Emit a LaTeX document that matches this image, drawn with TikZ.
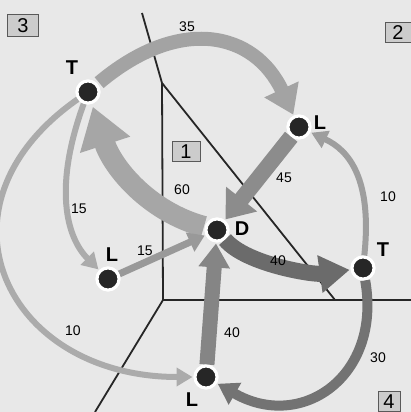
\documentclass[tikz,border=0pt]{standalone}
\usepackage{fontspec}
\setmainfont{Liberation Sans}
\usetikzlibrary{arrows.meta,positioning}

\begin{document}
\begin{tikzpicture}[x=1pt,y=1pt]
\tikzset{
    dot/.style={circle, fill=black!85, draw=white, line width=3pt, minimum size=22pt, inner sep=0pt},
    letter/.style={font=\fontsize{20}{20}\selectfont\bfseries, inner sep=0pt},
    num/.style={font=\fontsize{14}{14}\selectfont, inner sep=0pt},
    zone/.style={draw=black!65, fill=black!20, line width=1pt, font=\fontsize{20}{20}\selectfont, inner sep=0pt},
    axis/.style={draw=black!85, line width=1.8pt},
    band/.style={line width=#1, line cap=butt}
}

% --- background ---
\fill[black!9] (0,0) rectangle (411,412);
\useasboundingbox (0,0) rectangle (411,412);

% --- axes ---
\coordinate (a0) at (142,399);
\coordinate (a1) at (162,329);
\coordinate (a2) at (163,112);
\coordinate (a3) at (335,112);
\coordinate (a4) at (411,112);
\coordinate (a5) at (95,0);
\draw[axis] (a0)--(a1) (a1)--(a2) (a1)--(a3);
\draw[axis] (a2)--(a4) (a2)--(a5);

% --- nodes ---
\node[dot] (Tt) at (88,320) {};
\node[dot] (Lt) at (299,285) {};
\node[dot] (D) at (217,182) {};
\node[dot] (Ll) at (108,133) {};
\node[dot] (Tr) at (363,144) {};
\node[dot] (Lb) at (206,35) {};

% --- flows ---
\draw[band=14pt, black!36, -{Triangle[length=28pt,width=36pt]}, shorten <=2pt, shorten >=1pt]
    (Tt) .. controls +(40:120pt) and +(115:105pt) .. (Lt);
\draw[band=16pt, black!45, -{Triangle[length=26pt,width=38pt]}, shorten >=1pt]
    (Lt) -- (D);
\draw[band=21pt, black!35, -{Triangle[length=40pt,width=50pt]}, shorten <=1pt, shorten >=3pt]
    (D) .. controls +(165:70pt) and +(-72:80pt) .. (Tt);
\draw[band=6pt, black!33, -{Triangle[length=16pt,width=18pt]}, shorten >=1pt]
    (Tt) .. controls +(-110:100pt) and +(135:60pt) .. (Ll);
\draw[band=6pt, black!33, -{Triangle[length=16pt,width=18pt]}, shorten >=1pt]
    (Tt) .. controls +(215:200pt) and +(180:200pt) .. (Lb);
\draw[band=7pt, black!40, -{Triangle[length=16pt,width=20pt]}, shorten >=1pt]
    (Ll) -- (D);
\draw[band=16pt, black!58, -{Triangle[length=30pt,width=36pt]}, shorten >=1pt]
    (D) .. controls +(-50:45pt) and +(188:50pt) .. (Tr);
\draw[band=6pt, black!38, -{Triangle[length=16pt,width=18pt]}, shorten >=1pt]
    (Tr) .. controls +(84:90pt) and +(-25:55pt) .. (Lt);
\draw[band=10pt, black!55, -{Triangle[length=20pt,width=24pt]}, shorten >=1pt]
    (Tr) .. controls +(-80:110pt) and +(-30:110pt) .. (Lb);
\draw[band=15pt, black!48, -{Triangle[length=24pt,width=30pt]}, shorten >=1pt]
    (Lb) -- (D);

% --- dots again on top ---
\node[dot] at (Tt) {};
\node[dot] at (Lt) {};
\node[dot] at (D) {};
\node[dot] at (Ll) {};
\node[dot] at (Tr) {};
\node[dot] at (Lb) {};

% --- letters ---
\node[letter] (tTt) at (72,344) {T};
\node[letter] (tLt) at (320,289) {L};
\node[letter] (tD) at (242,183) {D};
\node[letter] (tLl) at (112,157) {L};
\node[letter] (tTr) at (383,162) {T};
\node[letter] (tLb) at (192,12) {L};

% --- values ---
\node[num] (n35) at (187,385) {35};
\node[num] (n45) at (284,234) {45};
\node[num] (n60) at (182,222) {60};
\node[num] (n15a) at (79,203) {15};
\node[num] (n15b) at (145,161) {15};
\node[num] (n10a) at (73,81) {10};
\node[num] (n10b) at (388,215) {10};
\node[num] (n40a) at (278,151) {40};
\node[num] (n40b) at (232,79) {40};
\node[num] (n30) at (378,54) {30};

% --- zones ---
\node[zone, minimum width=31pt, minimum height=22pt] (z3) at (23,386) {3};
\node[zone, minimum width=26pt, minimum height=20pt] (z2) at (398,379) {2};
\node[zone, minimum width=28pt, minimum height=20pt] (z1) at (186,260) {1};
\node[zone, minimum width=22pt, minimum height=20pt] (z4) at (389,10) {4};
\end{tikzpicture}
\end{document}
